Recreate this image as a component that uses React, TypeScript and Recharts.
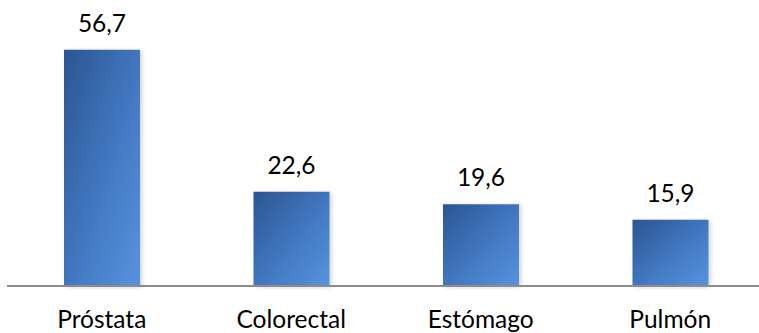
import React from "react";
import { BarChart, Bar, XAxis, YAxis, LabelList } from "recharts";

const categories = ["Próstata", "Colorectal", "Estómago", "Pulmón"];
const values = [56.7, 22.6, 19.6, 15.9];

const data = categories.map((name, i) => ({ name, value: values[i] }));

const FONT = "Lato, 'Open Sans', sans-serif";

const fmt = (v: any) => String(v).replace(".", ",");

export default function App() {
  return (
    <div style={{ position: "absolute", left: 0, top: 0, width: 759, height: 333, overflow: "hidden", background: "#fff" }}>
      <BarChart
        width={766}
        height={333}
        data={data}
        margin={{ top: 36, right: 1, bottom: 0, left: 7 }}
        barCategoryGap={0}
      >
        <defs>
          <linearGradient id="barGrad" x1="0" y1="0" x2="1" y2="1">
            <stop offset="0%" stopColor="#2B5592" />
            <stop offset="55%" stopColor="#4279C2" />
            <stop offset="100%" stopColor="#5892DE" />
          </linearGradient>
          <filter id="shadow" x="-10%" y="-10%" width="130%" height="120%">
            <feDropShadow dx="2" dy="1" stdDeviation="2" floodColor="#000" floodOpacity="0.18" />
          </filter>
        </defs>
        <YAxis hide domain={[0, 60]} />
        <XAxis
          dataKey="name"
          height={47}
          tickLine={false}
          axisLine={{ stroke: "#8c8c8c", strokeWidth: 2 }}
          tick={{ fontSize: 24.5, fill: "#000", fontFamily: FONT }}
          tickMargin={19}
          interval={0}
        />
        <Bar dataKey="value" fill="url(#barGrad)" barSize={76} isAnimationActive={false} style={{ filter: "url(#shadow)" }}>
          <LabelList
            dataKey="value"
            position="top"
            offset={18}
            formatter={fmt}
            style={{ fontSize: 24.5, fill: "#000", fontFamily: FONT }}
          />
        </Bar>
      </BarChart>
    </div>
  );
}
